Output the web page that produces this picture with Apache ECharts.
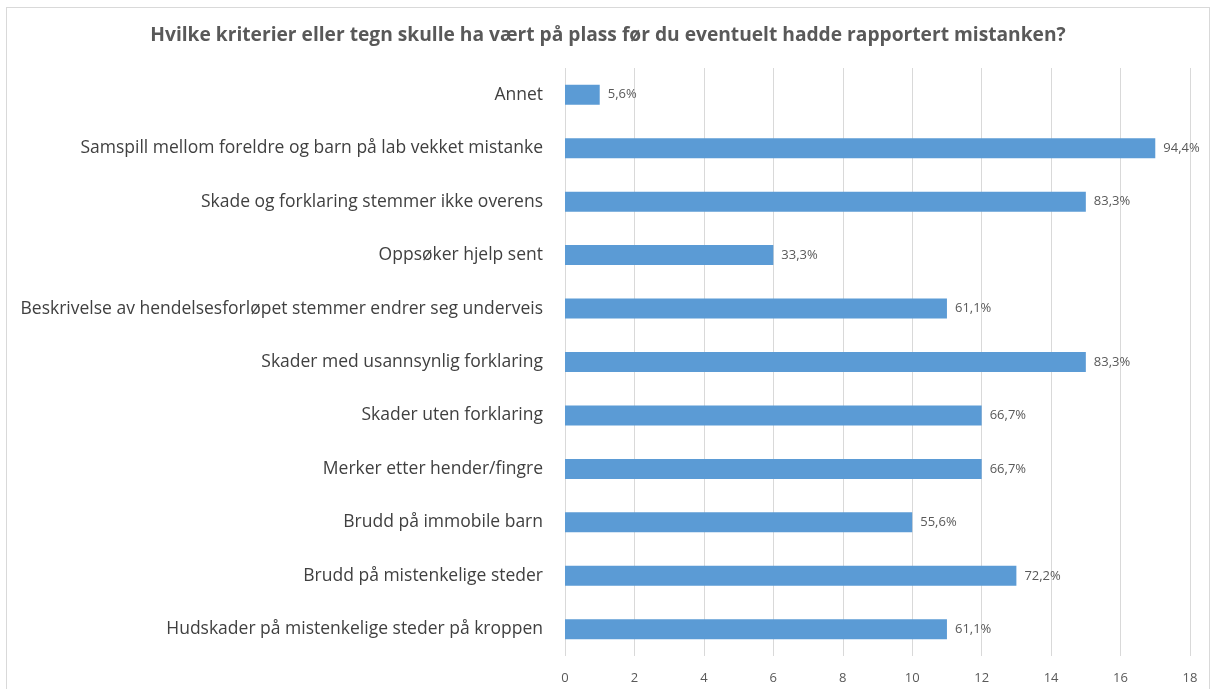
<!DOCTYPE html>
<html>
<head>
<meta charset="utf-8">
<script src="https://cdn.jsdelivr.net/npm/echarts@6/dist/echarts.min.js"></script>
<style>
  html, body { margin: 0; padding: 0; background: #fff; }
  #chart { position: absolute; left: 6px; top: 7px; width: 1204px; height: 682px; border: 1px solid #d9d9d9; border-bottom: none; box-sizing: border-box; }
</style>
</head>
<body>
<div id="chart"></div>
<script>
// kategorier fra topp til bunn
const categories = [
  "Annet",
  "Samspill mellom foreldre og barn på lab vekket mistanke",
  "Skade og forklaring stemmer ikke overens",
  "Oppsøker hjelp sent",
  "Beskrivelse av hendelsesforløpet stemmer endrer seg underveis",
  "Skader med usannsynlig forklaring",
  "Skader uten forklaring",
  "Merker etter hender/fingre",
  "Brudd på immobile barn",
  "Brudd på mistenkelige steder",
  "Hudskader på mistenkelige steder på kroppen"
];
const counts = [1, 17, 15, 6, 11, 15, 12, 12, 10, 13, 11];
const percentLabels = ["5,6%", "94,4%", "83,3%", "33,3%", "61,1%", "83,3%", "66,7%", "66,7%", "55,6%", "72,2%", "61,1%"];
const xTicks = [0, 2, 4, 6, 8, 10, 12, 14, 16, 18];

const chart = echarts.init(document.getElementById("chart"));
chart.setOption({
  animation: false,
  title: {
    text: "Hvilke kriterier eller tegn skulle ha vært på plass før du eventuelt hadde rapportert mistanken?",
    left: "center",
    top: 13,
    textStyle: { fontFamily: "Open Sans", fontSize: 19.2, fontWeight: "bold", color: "#595959" }
  },
  grid: { left: 558, right: 19, top: 60, bottom: 33, containLabel: false },
  xAxis: {
    type: "value",
    min: xTicks[0],
    max: xTicks[xTicks.length - 1],
    interval: 2,
    axisLine: { show: false },
    axisTick: { show: false },
    axisLabel: { color: "#595959", fontFamily: "Open Sans", fontSize: 13, margin: 16 },
    splitLine: { lineStyle: { color: "#d9d9d9", width: 1 } }
  },
  yAxis: {
    type: "category",
    data: categories,
    inverse: true,
    axisLine: { show: false },
    axisTick: { show: false },
    axisLabel: { color: "#404040", fontFamily: "Open Sans", fontSize: 17.5, margin: 22 }
  },
  series: [{
    type: "bar",
    data: counts,
    barWidth: 20,
    itemStyle: { color: "#5b9bd5" },
    label: {
      show: true,
      position: "right",
      distance: 8,
      color: "#595959",
      fontFamily: "Open Sans",
      fontSize: 13,
      formatter: p => percentLabels[p.dataIndex]
    }
  }]
});
</script>
</body>
</html>
